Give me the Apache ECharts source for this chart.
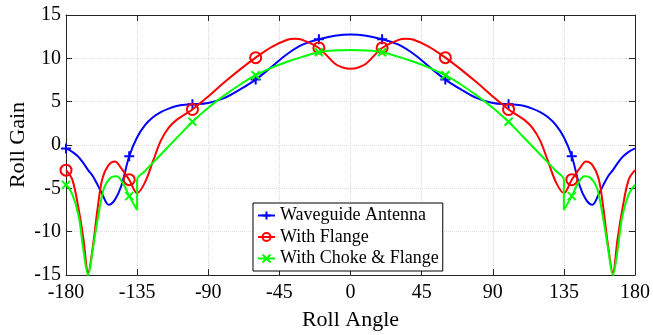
<!DOCTYPE html>
<html>
<head>
<meta charset="utf-8">
<script src="https://cdn.jsdelivr.net/npm/echarts@6/dist/echarts.min.js"></script>
<style>
html,body{margin:0;padding:0;background:#fff;}
#c{width:653px;height:335px;}
</style>
</head>
<body>
<div id="c"></div>
<script>
// ---- data ----
var xTicks = [-180, -135, -90, -45, 0, 45, 90, 135, 180];
var markerAngles = [-180, -140, -100, -60, -20, 20, 60, 100, 140];

var waveguideAngles = [-180,-176,-172,-169,-166,-163,-160,-157,-153,-149,-145,-140,-135,-130,-125,-120,-115,-110,-105,-100,-90,-80,-70,-60,-50,-40,-30,-20,-10,0,
  10,20,30,40,50,60,70,80,90,100,105,110,115,120,125,130,135,140,145,149,153,157,160,163,166,169,172,176,180];
var waveguideGain = [-0.4,-0.8,-1.4,-2.1,-2.9,-3.6,-4.6,-5.7,-6.9,-6.3,-4.7,-1.3,0.9,2.3,3.2,3.8,4.2,4.5,4.65,4.7,4.85,5.4,6.4,7.55,9.0,10.5,11.6,12.2,12.6,12.75,
  12.6,12.2,11.6,10.5,9.0,7.55,6.4,5.4,4.85,4.7,4.65,4.5,4.2,3.8,3.2,2.3,0.9,-1.3,-4.7,-6.3,-6.9,-5.7,-4.6,-3.6,-2.9,-2.1,-1.4,-0.8,-0.4];

var flangeAngles = [-180,-176,-172,-169,-166,-163,-160,-157,-153,-149,-145,-140,-135,-130,-125,-120,-115,-110,-105,-100,-90,-80,-70,-60,-50,-40,-35,-30,-20,-10,-5,0,
  5,10,20,30,35,40,50,60,70,80,90,100,105,110,115,120,125,130,135,140,145,149,153,157,160,163,166,169,172,176,180];
var flangeGain = [-2.9,-4.0,-7.4,-10.8,-14.7,-11.7,-7.3,-3.9,-2.3,-1.9,-2.7,-4.0,-5.55,-4.3,-1.9,0.5,2.0,2.9,3.5,4.1,5.6,7.2,8.7,10.08,11.3,12.15,12.26,12.1,11.2,9.4,8.95,8.8,
  8.95,9.4,11.2,12.1,12.26,12.15,11.3,10.08,8.7,7.2,5.6,4.1,3.5,2.9,2.0,0.5,-1.9,-4.3,-5.55,-4.0,-2.7,-1.9,-2.3,-3.9,-7.3,-11.7,-14.7,-10.8,-7.4,-4.0,-2.9];

var chokeAngles = [-180,-176,-172,-169,-166,-163,-160,-156,-152,-148,-144,-140,-135,-135,-130,-120,-110,-100,-90,-80,-70,-60,-50,-40,-30,-20,-10,0,
  10,20,30,40,50,60,70,80,90,100,110,120,130,135,135,140,144,148,152,156,160,163,166,169,172,176,180];
var chokeGain = [-4.6,-5.7,-8.2,-12.1,-15.0,-12.0,-8.6,-5.0,-3.8,-3.6,-4.4,-5.9,-7.5,-4.0,-3.0,-1.1,0.8,2.68,4.3,5.7,6.95,8.05,8.9,9.6,10.2,10.7,10.9,10.95,
  10.9,10.7,10.2,9.6,8.9,8.05,6.95,5.7,4.3,2.68,0.8,-1.1,-3.0,-4.0,-7.5,-5.9,-4.4,-3.6,-3.8,-5.0,-8.6,-12.0,-15.0,-12.1,-8.2,-5.7,-4.6];

var seriesNames = ['Waveguide Antenna', 'With Flange', 'With Choke & Flange'];
var seriesColors = ['#0000ff', '#ff0000', '#00ff00'];

// ---- build ----
var FONT = 'Liberation Serif';
var plusPath = 'path://M5,0 L5,10 M0,5 L10,5';
var xPath = 'path://M0,0 L10,10 M10,0 L0,10';
var symbols = [plusPath, 'circle', xPath];
var sizes = [10, 11, 8];

function build(angles, gains) {
  var out = [];
  var used = {};
  for (var i = 0; i < angles.length; i++) {
    var a = angles[i];
    var mark = markerAngles.indexOf(a) >= 0 && !used[a];
    if (mark) used[a] = true;
    var item = { value: [a, gains[i]] };
    if (!mark) item.symbol = 'none';
    out.push(item);
  }
  return out;
}
var datasets = [build(waveguideAngles, waveguideGain), build(flangeAngles, flangeGain), build(chokeAngles, chokeGain)];

var series = seriesNames.map(function (n, k) {
  return {
    name: n,
    type: 'line',
    xAxisIndex: 0,
    yAxisIndex: 0,
    data: datasets[k],
    smooth: 0.35,
    symbol: symbols[k],
    symbolSize: sizes[k],
    showAllSymbol: true,
    clip: true,
    lineStyle: { color: seriesColors[k], width: 2 },
    itemStyle: { color: k === 1 ? '#ffffff00' : seriesColors[k], borderColor: seriesColors[k], borderWidth: 2 },
    emphasis: { disabled: true },
    z: 2 + k
  };
});

var axisColor = '#262626';
var chart = echarts.init(document.getElementById('c'), null, { renderer: 'canvas' });
chart.setOption({
  animation: false,
  backgroundColor: '#ffffff',
  textStyle: { fontFamily: FONT },
  grid: { left: 66, right: 18, top: 15, bottom: 60, containLabel: false, outerBoundsMode: 'none' },
  legend: {
    orient: 'vertical',
    left: 253,
    top: 203,
    backgroundColor: '#ffffff',
    borderColor: '#000000',
    borderWidth: 1,
    borderRadius: 0,
    padding: [3, 4, 3, 4],
    itemGap: 2.5,
    itemWidth: 17,
    itemHeight: 10,
    textStyle: { fontFamily: FONT, fontSize: 18, color: '#000', lineHeight: 19 },
    data: seriesNames
  },
  xAxis: [{
    type: 'value', min: -180, max: 180, interval: 45, position: 'bottom',
    name: 'Roll Angle', nameLocation: 'middle', nameGap: 34, nameMoveOverlap: false,
    nameTextStyle: { fontFamily: FONT, fontSize: 22, color: '#000' },
    axisLine: { show: true, onZero: false, lineStyle: { color: axisColor, width: 1 } },
    axisTick: { show: true, inside: true, length: 6, lineStyle: { color: axisColor } },
    axisLabel: { fontFamily: FONT, fontSize: 20, color: '#000', margin: 8 },
    splitLine: { show: true, lineStyle: { color: '#dcdcdc', type: 'dotted', width: 1 } }
  }, {
    type: 'value', min: -180, max: 180, interval: 45, position: 'top',
    axisLine: { show: true, onZero: false, lineStyle: { color: axisColor, width: 1 } },
    axisTick: { show: true, inside: true, length: 6, lineStyle: { color: axisColor } },
    axisLabel: { show: false }, splitLine: { show: false }
  }],
  yAxis: [{
    type: 'value', min: -15, max: 15, interval: 5, position: 'left',
    name: 'Roll Gain', nameLocation: 'middle', nameGap: 37, nameMoveOverlap: false,
    nameTextStyle: { fontFamily: FONT, fontSize: 22, color: '#000' },
    axisLine: { show: true, onZero: false, lineStyle: { color: axisColor, width: 1 } },
    axisTick: { show: true, inside: true, length: 6, lineStyle: { color: axisColor } },
    axisLabel: { fontFamily: FONT, fontSize: 20, color: '#000', margin: 5 },
    splitLine: { show: true, lineStyle: { color: '#dcdcdc', type: 'dotted', width: 1 } }
  }, {
    type: 'value', min: -15, max: 15, interval: 5, position: 'right',
    axisLine: { show: true, onZero: false, lineStyle: { color: axisColor, width: 1 } },
    axisTick: { show: true, inside: true, length: 6, lineStyle: { color: axisColor } },
    axisLabel: { show: false }, splitLine: { show: false }
  }],
  series: series
});
</script>
</body>
</html>
